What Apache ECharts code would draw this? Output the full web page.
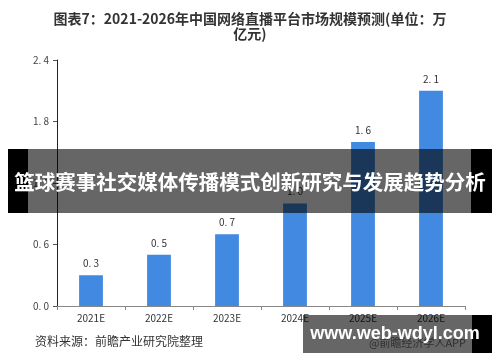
<!DOCTYPE html>
<html><head><meta charset="utf-8">
<script src="https://cdn.jsdelivr.net/npm/echarts@6/dist/echarts.min.js"></script>
<style>html,body{margin:0;padding:0;background:#fff}#c{width:500px;height:362px}</style>
</head><body><div id="c"></div>
<script>
var categories = ['2021E','2022E','2023E','2024E','2025E','2026E'];
var values = [0.3, 0.5, 0.7, 1.0, 1.6, 2.1];
var yTicks = [0, 0.6, 1.2, 1.8, 2.4];
var titleLines = ['图表7：2021-2026年中国网络直播平台市场规模预测(单位：万', '亿元)'];
var sourceText = '资料来源：前瞻产业研究院整理';
var bannerText = '篮球赛事社交媒体传播模式创新研究与发展趋势分析';
var watermarkText = 'www.web-wdyl.com';
var appText = '@前瞻经济学人APP';

function spaced(v){ return v.toFixed(1).replace('.', '. '); }
var font = '"Noto Sans CJK SC", "Noto Sans", sans-serif';
var chart = echarts.init(document.getElementById('c'));
chart.setOption({
  animation: false,
  textStyle: { fontFamily: font },
  title: {
    text: titleLines.join('\n'), left: 'center', top: 6,
    textStyle: { fontSize: 14, fontWeight: 'bold', color: '#333', lineHeight: 15, fontFamily: font }
  },
  grid: { left: 57, right: 35, top: 60, bottom: 56 },
  xAxis: {
    type: 'category', data: categories,
    axisLine: { lineStyle: { color: '#888' } },
    axisTick: { show: true, lineStyle: { color: '#888' }, length: 4 },
    axisLabel: { color: '#333', fontSize: 10, margin: 7 }
  },
  yAxis: {
    type: 'value', min: 0, max: 2.4, interval: 0.6,
    axisLine: { show: true, lineStyle: { color: '#222' } },
    axisTick: { show: true, length: 4, lineStyle: { color: '#555' } },
    splitLine: { show: false },
    axisLabel: { color: '#444', fontSize: 10, margin: 8, formatter: function(v){ return spaced(v); } }
  },
  series: [{
    type: 'bar', data: values, barWidth: '35%',
    itemStyle: { color: '#4189E1' },
    label: { show: true, position: 'top', color: '#333', fontSize: 10, distance: 7,
             formatter: function(p){ return spaced(p.value); } }
  }],
  graphic: [
    { type: 'text', left: 35, top: 335, z: 10,
      style: { text: sourceText, fill: '#333', fontSize: 12, fontFamily: font } },
    { type: 'text', left: 369, top: 337, z: 10,
      style: { text: appText, fill: '#777', fontSize: 11, fontFamily: font } },
    { type: 'rect', shape: { x: 8, y: 149, width: 20, height: 64 }, z: 100, style: { fill: '#000' } },
    { type: 'rect', shape: { x: 28, y: 149, width: 443, height: 64 }, z: 100, style: { fill: 'rgba(0,0,0,0.6)' } },
    { type: 'rect', shape: { x: 471, y: 149, width: 21, height: 64 }, z: 100, style: { fill: '#000' } },
    { type: 'text', x: 250, y: 182, z: 101,
      style: { text: bannerText, fill: '#fff', fontSize: 20.5, fontWeight: 'bold', fontFamily: font,
               textAlign: 'center', textVerticalAlign: 'middle' } },
    { type: 'rect', shape: { x: 303, y: 315, width: 169, height: 38 }, z: 100, style: { fill: 'rgba(0,0,0,0.6)' } },
    { type: 'rect', shape: { x: 472, y: 315, width: 20, height: 38 }, z: 100, style: { fill: '#000' } },
    { type: 'text', x: 395, y: 334, z: 101,
      style: { text: watermarkText, fill: '#fff', fontSize: 18, fontWeight: 'bold', fontFamily: '"Liberation Sans", Arial, sans-serif',
               textAlign: 'center', textVerticalAlign: 'middle' } }
  ]
});
</script></body></html>
